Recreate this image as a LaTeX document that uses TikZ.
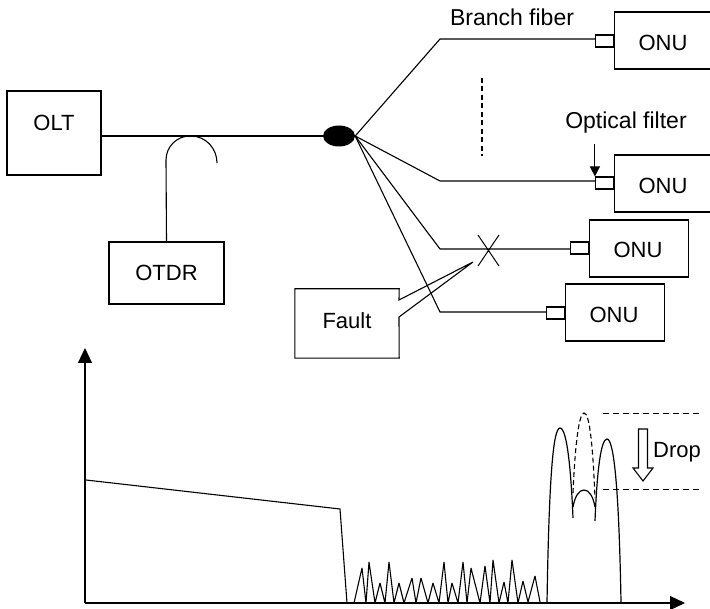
\documentclass[tikz,border=0pt]{standalone}
\usepackage{fontspec}
\setmainfont{Liberation Sans}
\usetikzlibrary{shapes.geometric,arrows.meta}
\tikzset{
  box/.style={draw,inner sep=0pt,line width=1.1pt},
  filterbox/.style={draw,inner sep=0pt,minimum width=18pt,minimum height=12pt,line width=1.1pt},
  onubox/.style={box,minimum width=99pt,minimum height=57pt},
  fiber/.style={line width=1.1pt},
  axis/.style={line width=1.1pt,-{Triangle[length=15pt,width=14pt]}},
  biglabel/.style={font=\fontsize{23}{27}\selectfont}
}
\begin{document}
\begin{tikzpicture}[x=1pt,y=-1pt,every node/.style={font=\fontsize{22}{26}\selectfont}]
\useasboundingbox (0,0) rectangle (710,609);
% network
\node[box,minimum width=94pt,minimum height=84pt] (olt) at (54,133) {};
\node at (54,123) (oltlabel) {OLT};
\node[box,minimum width=115pt,minimum height=62pt] (otdr) at (166.5,273) {OTDR};
\node[ellipse,fill=black,inner sep=0pt,minimum width=32pt,minimum height=21pt] (split) at (339,136) {};
\draw[fiber] (olt.east |- split) -- (split);
\draw[fiber] (otdr.north) -- (166,160) arc[start angle=180,end angle=90,radius=24pt] -- (191,136) arc[start angle=90,end angle=0,x radius=26pt,y radius=27pt];
% onu branches
\node[onubox,minimum width=96pt,anchor=west] (onua) at (614,40.5) {};
\node at (663,42.5) (onualabel) {ONU};
\node[onubox,minimum width=96pt,anchor=west] (onub) at (614,183.5) {};
\node at (663,186) (onublabel) {ONU};
\node[onubox,anchor=west] (onuc) at (589,248.5) {};
\node at (638,249.5) (onuclabel) {ONU};
\node[onubox,anchor=west] (onud) at (565,312.5) {};
\node at (614,315) (onudlabel) {ONU};
\node[filterbox,anchor=east] (fa) at (onua.west |- 0,41) {};
\node[filterbox,anchor=east] (fb) at (onub.west |- 0,183) {};
\node[filterbox,anchor=east] (fc) at (onuc.west |- 0,248) {};
\node[filterbox,anchor=east] (fd) at (onud.west |- 0,313) {};
\coordinate (ka) at (440,39);
\coordinate (kb) at (440,181);
\coordinate (kc) at (440,249);
\coordinate (kd) at (440,312);
\draw[fiber] (split.east) -- (ka) -- (ka -| fa.west);
\draw[fiber] (split.east) -- (kb) -- (kb -| fb.west);
\draw[fiber] (split.east) -- (kc) -- (kc -| fc.west);
\draw[fiber] (split.east) -- (kd) -- (kd -| fd.west);
\draw[line width=1.1pt,dash pattern=on 5pt off 3.5pt] (482,78) -- (482,156);
\node[biglabel] (branchlabel) at (512,17) {Branch fiber};
\node[biglabel] (filterlabel) at (626,123) {Optical filter};
\draw[line width=1.1pt,-{Triangle[length=10pt,width=10pt]}] (fb.north west |- 0,144) -- (fb.north west);
% fault
\draw[line width=1pt] (478,235) -- (499,266) (499,235) -- (478,266);
\node[inner sep=0pt,minimum width=104pt,minimum height=69pt] (fault) at (347,323.5) {};
\node (faultlabel) at (347,321) {Fault};
\coordinate (faulttip) at (473,262);
\draw[line width=1.1pt] (fault.north west) -- (fault.north east) -- (399,300) -- (faulttip) -- (399,317) -- (fault.south east) -- (fault.south west) -- cycle;
% trace
\coordinate (origin) at (85,603);
\draw[axis] (origin) -- (85,348);
\draw[axis] (origin) -- (685,603);
\draw[fiber] (86,480) -- (340,509) -- (347,603);
\draw[fiber,line join=bevel] (354,603) -- (362,568) -- (366,603) -- (369,562) -- (375,603) -- (380,583) -- (385,603) -- (389,562) -- (394,603) -- (399,583) -- (404,603) -- (412,578) -- (416,603) -- (421,578) -- (428,603) -- (433,583) -- (439,603) -- (444,562) -- (448,603) -- (452,583) -- (458,603) -- (463,562) -- (467,603) -- (471,568) -- (480,603) -- (485,566) -- (490,603) -- (493,560) -- (499,603) -- (504,582) -- (508,603) -- (512,560) -- (518,603) -- (523,581) -- (528,602) -- (535,576) -- (540,602);
\draw[line width=1.2pt] (547,603) .. controls (549,480) and (553,428) .. (560,428) .. controls (567,428) and (571,470) .. (573,518);
\draw[line width=1.2pt] (595,521) .. controls (597,470) and (601,439) .. (607,439) .. controls (614,439) and (619,490) .. (621,602);
\draw[line width=1.2pt] (573,507) .. controls (575,496) and (579,490) .. (584,490) .. controls (589,490) and (593,496) .. (595,507);
\draw[line width=1.1pt,dash pattern=on 5pt off 3pt] (573,493) .. controls (575,445) and (579,413) .. (584,413) .. controls (590,413) and (593,450) .. (595,498);
\draw[line width=1pt,dash pattern=on 6pt off 4pt] (603,414) -- (702,414);
\draw[line width=1pt,dash pattern=on 6pt off 4pt] (603,490) -- (702,490);
\draw[line width=1.1pt] (638.5,429) -- (647.5,429) -- (647.5,468) -- (653,468) -- (643,481) -- (633,468) -- (638.5,468) -- cycle;
\node (droplabel) at (677,452) {Drop};
\end{tikzpicture}
\end{document}
